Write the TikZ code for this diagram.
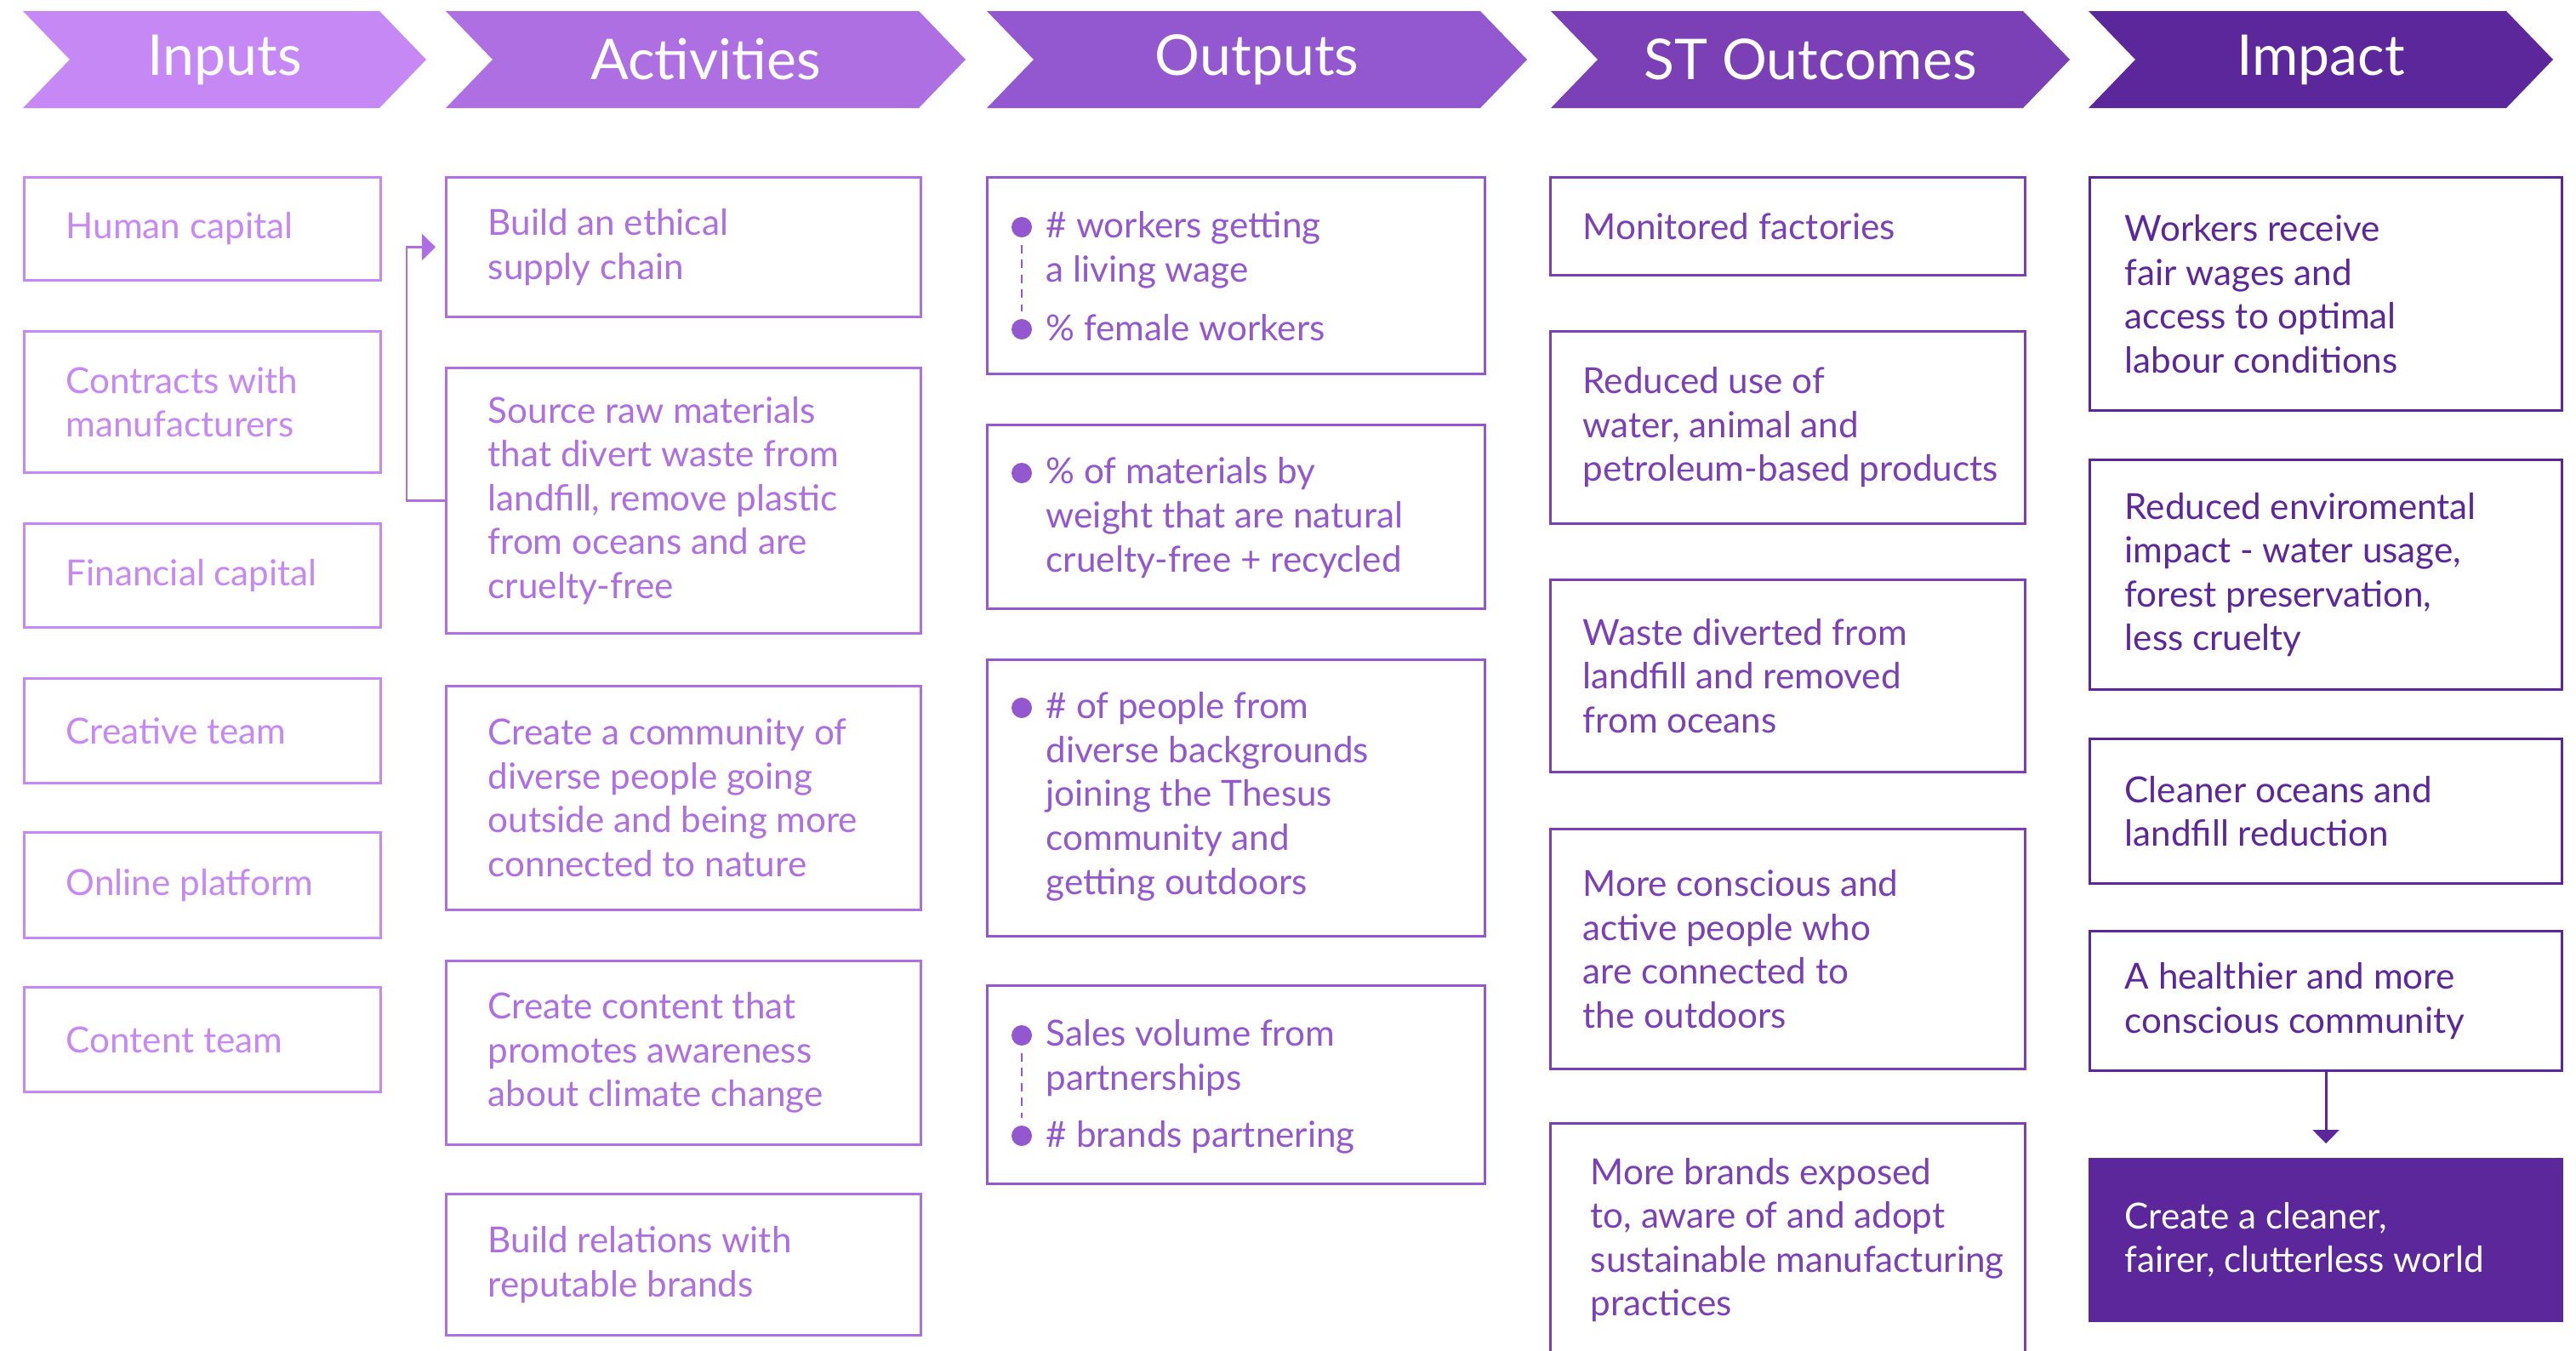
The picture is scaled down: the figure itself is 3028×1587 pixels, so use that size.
\documentclass[tikz,border=0pt]{standalone}
\usepackage{fontspec}
\setmainfont{Lato}
\usetikzlibrary{arrows.meta}

\definecolor{inputcol}{HTML}{C688F5}
\definecolor{actcol}{HTML}{AD6FE2}
\definecolor{outcol}{HTML}{9358CF}
\definecolor{stcol}{HTML}{7B40B5}
\definecolor{impcol}{HTML}{5C279B}

\newcommand{\boxfont}{\fontsize{12}{14.65}\selectfont}
\newcommand{\headfont}{\fontsize{18.8}{21}\selectfont}

\tikzset{
  stage/.style={draw, line width=0.8pt, anchor=north west, inner sep=0pt},
  stagetext/.style={anchor=west, align=left, inner sep=0pt, font=\boxfont},
  itemtext/.style={anchor=base west, align=left, inner sep=0pt, font=\boxfont},
  head/.style={white, font=\headfont, inner sep=0pt},
  bullet/.style={circle, fill, inner sep=0pt, minimum size=0.24cm},
  itemline/.style={line width=0.7pt, dash pattern=on 2.8pt off 2.2pt, shorten <=0.08cm, shorten >=0.08cm},
  link/.style={line width=0.8pt, -{Triangle[length=0.16cm,width=0.31cm]}},
}

\begin{document}
\begin{tikzpicture}[x=0.01cm, y=-0.01cm]
  % \draw[help lines, step=100] (0,0) grid (3028,1587);
  \useasboundingbox (0,0) rectangle (3028,1587);

  % header chevrons
  \foreach \l/\r/\c/\t/\n in {27/501/inputcol/Inputs/hin, 524/1135/actcol/Activities/hact,
      1160/1795/outcol/Outputs/hout, 1823/2433/stcol/ST Outcomes/hst, 2455/3001/impcol/Impact/himp}
  {
    \fill[\c] (\l,13) -- (\r-55,13) -- (\r,70) -- (\r-55,127) -- (\l,127) -- (\l+55,70) -- cycle;
    \node[head] (\n) at ({(\l+\r)/2},70) {\t};
  }

  % inputs
  \foreach \n/\y/\h/\t in {1/207/121/{Human capital}, 2/388/166/{Contracts with\\manufacturers},
      3/614/122/{Financial capital}, 4/796/123/{Creative team}, 5/977/124/{Online platform},
      6/1159/123/{Content team}}
  {
    \node[stage, inputcol, minimum width=4.19cm, minimum height=\h*0.01cm] (in\n) at (27,\y) {};
    \node[stagetext, inputcol] (in\n-txt) at ([xshift=0.5cm]in\n.west) {\t};
  }

  % activities
  \foreach \n/\y/\h/\t in {1/207/164/{Build an ethical\\supply chain},
      2/431/312/{Source raw materials\\that divert waste from\\landfill, remove plastic\\from oceans and are\\cruelty-free},
      3/805/263/{Create a community of\\diverse people going\\outside and being more\\connected to nature},
      4/1128/216/{Create content that\\promotes awareness\\about climate change},
      5/1402/166/{Build relations with\\reputable brands}}
  {
    \node[stage, actcol, minimum width=5.58cm, minimum height=\h*0.01cm] (act\n) at (523,\y) {};
    \node[stagetext, actcol] (act\n-txt) at ([xshift=0.5cm]act\n.west) {\t};
  }

  % outputs (item text sits on the baseline of its last line)
  \foreach \n/\y/\h in {1/207/231, 2/498/216, 3/774/325, 4/1157/233}
    \node[stage, outcol, minimum width=5.85cm, minimum height=\h*0.01cm] (out\n) at (1159,\y) {};

  \begin{scope}[outcol]
    \node[bullet] (b1) at (1201,267) {};
    \node[itemtext] (b1-txt) at (1229,331) {\# workers getting\\a living wage};
    \node[bullet] (b2) at (1201,387) {};
    \node[itemtext] (b2-txt) at (1229,400) {\% female workers};
    \draw[itemline] (b1) -- (b2);

    \node[bullet] (b3) at (1201,556) {};
    \node[itemtext] (b3-txt) at (1229,672) {\% of materials by\\weight that are natural\\cruelty-free + recycled};

    \node[bullet] (b4) at (1201,832) {};
    \node[itemtext] (b4-txt) at (1229,1051) {\# of people from\\diverse backgrounds\\joining the Thesus\\community and\\getting outdoors};

    \node[bullet] (b5) at (1201,1217) {};
    \node[itemtext] (b5-txt) at (1229,1281) {Sales volume from\\partnerships};
    \node[bullet] (b6) at (1201,1335) {};
    \node[itemtext] (b6-txt) at (1229,1348) {\# brands partnering};
    \draw[itemline] (b5) -- (b6);
  \end{scope}

  % short-term outcomes
  \foreach \n/\y/\h/\i/\t in {1/207/115/0.39/{Monitored factories},
      2/388/226/0.39/{Reduced use of\\water, animal and\\petroleum-based products},
      3/680/226/0.39/{Waste diverted from\\landfill and removed\\from oceans},
      4/973/282/0.39/{More conscious and\\active people who\\are connected to\\the outdoors},
      5/1319/274/0.48/{More brands exposed\\to, aware of and adopt\\sustainable manufacturing\\practices}}
  {
    \node[stage, stcol, minimum width=5.58cm, minimum height=\h*0.01cm] (st\n) at (1821,\y) {};
    \node[stagetext, stcol] (st\n-txt) at ([xshift=\i cm]st\n.west) {\t};
  }

  % impact
  \foreach \n/\y/\h/\t in {1/207/274/{Workers receive\\fair wages and\\access to optimal\\labour conditions},
      2/539/270/{Reduced enviromental\\impact - water usage,\\forest preservation,\\less cruelty},
      3/867/170/{Cleaner oceans and\\landfill reduction},
      4/1093/164/{A healthier and more\\conscious community}}
  {
    \node[stage, impcol, minimum width=5.55cm, minimum height=\h*0.01cm] (imp\n) at (2455,\y) {};
    \node[stagetext, impcol] (imp\n-txt) at ([xshift=0.42cm]imp\n.west) {\t};
  }
  \node[stage, impcol, fill=impcol, minimum width=5.55cm, minimum height=1.9cm] (imp5) at (2455,1361) {};
  \node[stagetext, white] (imp5-txt) at ([xshift=0.42cm]imp5.west) {Create a cleaner,\\fairer, clutterless world};

  % connectors
  \draw[link, actcol, shorten >=0.11cm] (act2.west) -- ++(-45,0) |- (act1.west);
  \draw[link, impcol, shorten >=0.17cm] (imp4.south) -- (imp5.north);
\end{tikzpicture}
\end{document}
